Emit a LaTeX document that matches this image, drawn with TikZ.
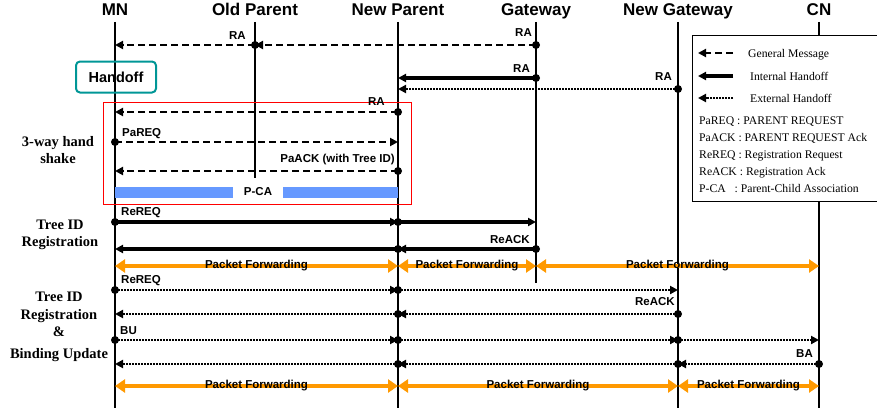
\documentclass[tikz,border=0pt]{standalone}
\usepackage{fontspec}
\setmainfont{Liberation Serif}
\setsansfont{Liberation Sans}
\usetikzlibrary{arrows.meta}

\definecolor{fwdorange}{RGB}{255,153,0}
\definecolor{pcablue}{RGB}{102,153,255}
\definecolor{handteal}{RGB}{0,150,150}

\tikzset{
  entity/.style={font=\fontsize{17}{20}\selectfont\sffamily\bfseries, anchor=base, inner sep=0pt},
  lifeline/.style={line width=1.2pt},
  msg/.style={font=\fontsize{11.5}{13}\selectfont\sffamily\bfseries, inner sep=0pt, text=black},
  tip/.style={-{Triangle[length=8pt,width=8pt]}},
  general/.style={tip, line width=2.6pt, dash pattern=on 7pt off 4pt},
  internal/.style={tip, line width=3.2pt},
  external/.style={tip, line width=2.8pt, dash pattern=on 1.8pt off 1.2pt},
  fwd/.style={fwdorange, line width=4pt, {Triangle[length=10pt,width=13pt]}-{Triangle[length=10pt,width=13pt]}},
  pcabar/.style={pcablue, line width=11pt},
  phase/.style={font=\fontsize{14.5}{17.5}\selectfont\bfseries, align=center},
  legendtext/.style={font=\fontsize{11.7}{14}\selectfont, anchor=base west, inner sep=0pt},
}

\begin{document}
\begin{tikzpicture}[x=1pt,y=-1pt]
\useasboundingbox (0,0) rectangle (877,412);

% coordinates on every lifeline for every message row
\foreach \row/\y in {top/22,a/45,b/78,c/89,d/112,e/142,f/171,g/192,h/222,i/249,j/266,k/290,l/314,m/340,n/364,o/386,bot/408}
  \foreach \who/\x in {MN/115,OP/255,NP/398,GW/536,NG/678,CN/819}
    \coordinate (\who-\row) at (\x,\y);
\coordinate (OP-end) at (255,178);
\coordinate (GW-end) at (536,283);

\node[entity] (MN) at (115,15.5) {MN};
\node[entity] (OP) at (255,15.5) {Old Parent};
\node[entity] (NP) at (398,15.5) {New Parent};
\node[entity] (GW) at (536,15.5) {Gateway};
\node[entity] (NG) at (678,15.5) {New Gateway};
\node[entity] (CN) at (819,15.5) {CN};

\draw[lifeline] (MN-top) -- (MN-bot);
\draw[lifeline] (OP-top) -- (OP-end);
\draw[lifeline] (NP-top) -- (NP-bot);
\draw[lifeline] (GW-top) -- (GW-end);
\draw[lifeline] (NG-top) -- (NG-bot);
\draw[lifeline] (CN-top) -- (CN-bot);

% legend
\draw[fill=white, line width=0.8pt] (692,35) rectangle (880,201);
\coordinate (lg1-l) at (698,53);  \coordinate (lg1-r) at (733,53);
\coordinate (lg2-l) at (698,76);  \coordinate (lg2-r) at (733,76);
\coordinate (lg3-l) at (698,98);  \coordinate (lg3-r) at (733,98);
\draw[general] (lg1-r) -- (lg1-l);
\draw[internal] (lg2-r) -- (lg2-l);
\draw[external] (lg3-r) -- (lg3-l);
\node[legendtext] (lgGen) at (748,57) {General Message};
\node[legendtext] (lgInt) at (750,80) {Internal Handoff};
\node[legendtext] (lgExt) at (750,102) {External Handoff};
\node[legendtext] (lgPaREQ) at (699,124) {PaREQ : PARENT REQUEST};
\node[legendtext] (lgPaACK) at (699,141) {PaACK : PARENT REQUEST Ack};
\node[legendtext] (lgReREQ) at (699,158) {ReREQ : Registration Request};
\node[legendtext] (lgReACK) at (699,175) {ReACK : Registration Ack};
\node[legendtext] (lgPCA) at (699,192) {P-CA\ \ \ : Parent-Child Association};

% handoff and 3-way hand shake
\node[draw=handteal, line width=2pt, rounded corners=4pt, minimum width=80pt, minimum height=31pt,
  font=\fontsize{14.5}{18}\selectfont\sffamily\bfseries] (handoff) at (116,77) {Handoff};
\draw[red, line width=1pt] (103,102) rectangle (411,204);

\draw[general] (GW-a) -- (OP-a);
\draw[general] (OP-a) -- (MN-a);
\draw[internal] (GW-b) -- (NP-b);
\draw[external] (NG-c) -- (NP-c);
\draw[general] (NP-d) -- (MN-d);
\draw[general] (MN-e) -- (NP-e);
\draw[general] (NP-f) -- (MN-f);

\node[msg, minimum width=50pt, minimum height=12pt, fill=white] (PCA) at (258,192) {P-CA};
\draw[pcabar] (MN-g) -- (PCA.west);
\draw[pcabar] (PCA.east) -- (NP-g);

% tree ID registration
\draw[internal] (MN-h) -- (NP-h);
\draw[internal] (NP-h) -- (GW-h);
\draw[internal] (GW-i) -- (NP-i);
\draw[internal] (NP-i) -- (MN-i);

\draw[fwd] (MN-j) -- node[msg] (fwd1) {Packet Forwarding} (NP-j);
\draw[fwd] (NP-j) -- node[msg] (fwd2) {Packet Forwarding} (GW-j);
\draw[fwd] (GW-j) -- node[msg] (fwd3) {Packet Forwarding} (CN-j);

% tree ID registration & binding update
\draw[external] (MN-k) -- (NP-k);
\draw[external] (NP-k) -- (NG-k);
\draw[external] (NG-l) -- (NP-l);
\draw[external] (NP-l) -- (MN-l);
\draw[external] (MN-m) -- (NP-m);
\draw[external] (NP-m) -- (NG-m);
\draw[external] (NG-m) -- (CN-m);
\draw[external] (CN-n) -- (NG-n);
\draw[external] (NG-n) -- (NP-n);
\draw[external] (NP-n) -- (MN-n);

\draw[fwd] (MN-o) -- node[msg] (fwd4) {Packet Forwarding} (NP-o);
\draw[fwd] (NP-o) -- node[msg] (fwd5) {Packet Forwarding} (NG-o);
\draw[fwd] (NG-o) -- node[msg] (fwd6) {Packet Forwarding} (CN-o);

% sender dots
\foreach \p in {GW-a,OP-a,GW-b,NG-c,NP-d,MN-e,NP-f,MN-h,NP-h,GW-i,NP-i,MN-k,NP-k,NG-l,NP-l,MN-m,NP-m,NG-m,CN-n,NG-n,NP-n}
  \fill (\p) circle (4pt);

% message labels
\node[msg, anchor=base east] (ra1) at (246,40) {RA};
\node[msg, anchor=base east] (ra2) at (532,37) {RA};
\node[msg, anchor=base east] (ra3) at (530,72) {RA};
\node[msg, anchor=base east] (ra4) at (672,80) {RA};
\node[msg, anchor=base east] (ra5) at (385,105) {RA};
\node[msg, anchor=base west] (pareq) at (122,136) {PaREQ};
\node[msg, anchor=base east] (paack) at (395,162) {PaACK (with Tree ID)};
\node[msg, anchor=base west] (rereq1) at (121,215) {ReREQ};
\node[msg, anchor=base east] (reack1) at (530,243) {ReACK};
\node[msg, anchor=base west] (rereq2) at (121,283) {ReREQ};
\node[msg, anchor=base east] (reack2) at (675,305) {ReACK};
\node[msg, anchor=base west] (bu) at (120,334) {BU};
\node[msg, anchor=base east] (ba) at (813,357) {BA};

% phases
\node[phase] (shake) at (58,150) {3-way hand\\shake};
\node[phase] (treeid) at (60,235) {Tree ID\\Registration};
\node[phase] (binding) at (59,327) {Tree ID\\Registration\\\&\\[4pt]Binding Update};
\end{tikzpicture}
\end{document}
